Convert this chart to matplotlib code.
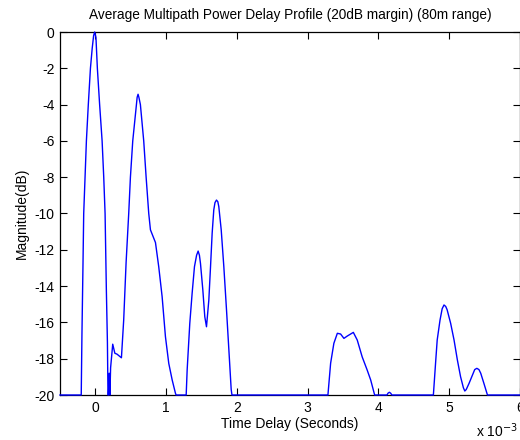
import matplotlib
matplotlib.use("Agg")
import matplotlib.pyplot as plt
import numpy as np

plt.rcParams['font.family'] = ['Liberation Sans', 'DejaVu Sans']

# Delay (ms) and averaged power (dB), floored at the 20 dB margin
delay_ms = [
    -0.50, -0.20, -0.19, -0.175, -0.165, -0.146, -0.127, -0.10, -0.07, -0.045, -0.025, -0.01,
    0.008, 0.028, 0.06, 0.095, 0.118, 0.137, 0.155, 0.17, 0.178, 0.185, 0.195, 0.205, 0.215,
    0.245, 0.275, 0.306, 0.368, 0.40, 0.434, 0.471, 0.495, 0.528, 0.58, 0.59, 0.603, 0.615,
    0.636, 0.683, 0.717, 0.754, 0.778, 0.849, 0.895, 0.943, 0.99, 1.037, 1.085, 1.131, 1.14,
    1.283, 1.297, 1.334, 1.367, 1.40, 1.43, 1.452, 1.47, 1.485, 1.518, 1.546, 1.57, 1.603,
    1.627, 1.65, 1.673, 1.69, 1.711, 1.73, 1.744, 1.778, 1.815, 1.853, 1.886, 1.919, 1.93,
    3.286, 3.324, 3.37, 3.419, 3.465, 3.512, 3.56, 3.645, 3.70, 3.77, 3.84, 3.89, 3.946,
    4.12, 4.135, 4.154, 4.172, 4.19,
    4.776, 4.81, 4.83, 4.87, 4.90, 4.926, 4.95, 4.97, 5.02, 5.068, 5.115, 5.16, 5.20, 5.22,
    5.24, 5.28, 5.36, 5.39, 5.42, 5.445, 5.49, 5.54, 6.0,
]
power_db = [
    -20.0, -20.0, -16.7, -12.75, -10.0, -8.0, -6.0, -4.0, -2.0, -0.9, -0.2, 0.0,
    -0.3, -2.0, -4.0, -6.0, -8.0, -10.0, -14.2, -17.1, -20.0, -20.0, -18.8, -20.0, -18.5,
    -17.2, -17.7, -17.75, -17.95, -15.87, -12.7, -10.0, -8.0, -6.0, -4.0, -3.6, -3.43, -3.6,
    -4.0, -6.0, -8.0, -10.0, -10.9, -11.6, -12.93, -14.58, -16.79, -18.26, -19.17, -19.9, -20.0,
    -20.0, -18.6, -16.05, -14.4, -12.93, -12.3, -12.07, -12.3, -12.75, -14.2, -15.69, -16.24, -14.77,
    -12.93, -11.09, -9.8, -9.4, -9.26, -9.35, -9.62, -10.9, -12.93, -15.32, -17.5, -19.7, -20.0,
    -20.0, -18.25, -17.15, -16.6, -16.64, -16.88, -16.75, -16.55, -16.97, -17.9, -18.62, -19.17, -20.0,
    -20.0, -19.9, -19.85, -19.9, -20.0,
    -20.0, -18.07, -16.97, -15.87, -15.25, -15.04, -15.12, -15.3, -16.05, -16.97, -18.07, -18.99, -19.6, -19.78,
    -19.7, -19.36, -18.6, -18.53, -18.6, -18.8, -19.36, -20.0, -20.0,
]

x_ticks = [0, 1, 2, 3, 4, 5, 6]
y_ticks = [-20, -18, -16, -14, -12, -10, -8, -6, -4, -2, 0]

fig = plt.figure(figsize=(5.2, 4.4), dpi=100)
ax = fig.add_axes([60 / 520, 1 - 395 / 440, 460 / 520, (395 - 32) / 440])

t = np.asarray(delay_ms) * 1e-3
ax.plot(t, power_db, color=(0, 0, 1), lw=1.0, clip_on=False, zorder=5)

ax.set_xlim(-0.5e-3, 6e-3)
ax.set_ylim(-20, 0)
ax.set_xticks([v * 1e-3 for v in x_ticks])
ax.set_xticklabels([str(v) for v in x_ticks])
ax.set_yticks(y_ticks)
ax.set_yticklabels([str(v) for v in y_ticks])
ax.tick_params(direction='in', length=5, width=0.8, top=True, right=True,
               labelsize=10, pad=4, colors='black')
for s in ax.spines.values():
    s.set_linewidth(0.9)
    s.set_color('black')

ax.set_title('Average Multipath Power Delay Profile (20dB margin) (80m range)',
             fontsize=9.8, pad=9)
ax.set_xlabel('Time Delay (Seconds)', fontsize=10, labelpad=2)
ax.set_ylabel('Magnitude(dB)', fontsize=10, labelpad=4)
fig.text(476 / 520, 1 - 431 / 440, r'x 10$^{-3}$', fontsize=10, va='center', ha='left')

fig.savefig('out.png', dpi=100)
